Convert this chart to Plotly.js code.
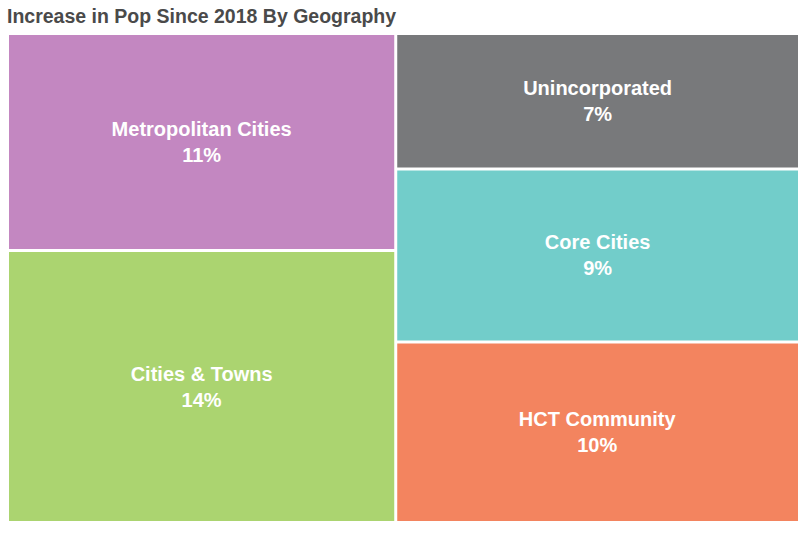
<!DOCTYPE html>
<html>
<head>
<meta charset="utf-8">
<script src="https://cdn.plot.ly/plotly-3.0.1.min.js"></script>
<style>html,body{margin:0;padding:0;background:#fff;}#chart{width:807px;height:551px;}</style>
</head>
<body>
<div id="chart"></div>
<script>
// Data
var groupLeft = ['Metropolitan Cities', 'Cities & Towns'];
var groupRight = ['Unincorporated', 'Core Cities', 'HCT Community'];
var valuesLeft = [11.1, 13.9];
var valuesRight = [7.2, 9.2, 9.6];
var colorsLeft = ['#C387C1', '#ABD470'];
var colorsRight = ['#78797B', '#72CDCA', '#F3845F'];

var ids = ['root', 'L', 'R'];
var labels = ['', '', ''];
var parents = ['', 'root', 'root'];
var values = [0, 0, 0];
var colors = ['#ffffff', '#ffffff', '#ffffff'];
var texts = ['', '', ''];
groupLeft.forEach(function (n, i) {
  ids.push(n); labels.push(n); parents.push('L'); values.push(valuesLeft[i]); colors.push(colorsLeft[i]);
  texts.push('<b>' + n + '</b><br><b>' + Math.round(valuesLeft[i]) + '%</b>');
});
groupRight.forEach(function (n, i) {
  ids.push(n); labels.push(n); parents.push('R'); values.push(valuesRight[i]); colors.push(colorsRight[i]);
  texts.push('<b>' + n + '</b><br><b>' + Math.round(valuesRight[i]) + '%</b>');
});

var trace = {
  type: 'treemap',
  ids: ids,
  labels: labels,
  parents: parents,
  values: values,
  text: texts,
  textinfo: 'text',
  textposition: 'middle center',
  sort: false,
  branchvalues: 'remainder',
  marker: {
    colors: colors,
    line: {width: 0},
    pad: {t: 0, l: 0, r: 0, b: 0}
  },
  tiling: {packing: 'slice-dice', pad: 3},
  pathbar: {visible: false},
  textfont: {family: 'Liberation Sans, Arial, sans-serif', size: 20, color: '#ffffff'},
  hoverinfo: 'none'
};

var layout = {
  width: 807,
  height: 551,
  margin: {l: 9, r: 9, t: 35, b: 30},
  paper_bgcolor: '#ffffff',
  title: {
    text: '<b>Increase in Pop Since 2018 By Geography</b>',
    font: {family: 'Liberation Sans, Arial, sans-serif', size: 19.5, color: '#4A4A4A'},
    xref: 'container', x: 7 / 807, xanchor: 'left',
    yref: 'container', y: 1 - 16.5 / 551, yanchor: 'middle'
  },
  showlegend: false
};

Plotly.newPlot('chart', [trace], layout, {displayModeBar: false, staticPlot: true});
</script>
</body>
</html>
